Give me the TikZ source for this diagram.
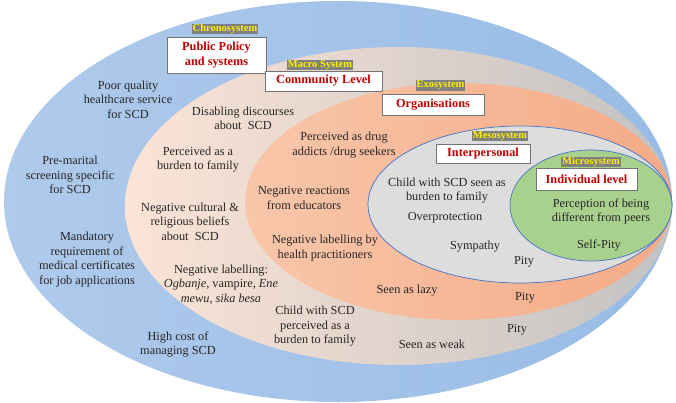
\documentclass[tikz,border=0pt]{standalone}
\usepackage{fontspec}
\setmainfont{Liberation Serif}
\definecolor{blueL}{HTML}{AFCAEB}
\definecolor{blueR}{HTML}{98BCE6}
\definecolor{peach}{HTML}{FCE4D6}
\definecolor{grayR}{HTML}{C2C2C2}
\definecolor{orgL}{HTML}{F8C6AA}
\definecolor{orgR}{HTML}{F4AA86}
\definecolor{meso}{HTML}{DDDDDD}
\definecolor{micro}{HTML}{A9D18E}
\definecolor{edgeblue}{HTML}{4472C4}
\definecolor{lvlred}{HTML}{C00000}
\definecolor{tagbg}{HTML}{808080}
\tikzset{
  txt/.style={font=\fontsize{12.3}{14.5}\selectfont, align=center, inner sep=0pt, text=black!85},
  systag/.style={fill=tagbg, text=yellow, font=\fontsize{10.5}{11}\selectfont\bfseries, inner sep=0pt},
  lvlbox/.style={draw=black!55, line width=0.7pt, fill=white, text=lvlred, font=\fontsize{12.3}{14.5}\selectfont\bfseries, align=center, inner sep=0pt}
}
\begin{document}
\begin{tikzpicture}[x=1pt,y=-1pt]
\useasboundingbox (0,0) rectangle (676,403);
% ellipses
\shade[left color=blueL, right color=blueR] (338,201.5) ellipse [x radius=334pt, y radius=200.5pt];
\shade[left color=peach, right color=grayR] (398.5,206) ellipse [x radius=273.5pt, y radius=159pt];
\shade[left color=orgL, right color=orgR] (458.5,201.5) ellipse [x radius=213.5pt, y radius=118.5pt];
\fill[meso, draw=edgeblue, line width=0.7pt] (520,204.5) ellipse [x radius=152pt, y radius=78.5pt];
\fill[micro, draw=edgeblue, line width=0.7pt] (591,205.5) ellipse [x radius=81pt, y radius=55.5pt];
% system tags and level boxes
\node[systag, minimum width=66pt, minimum height=10pt] (chrono) at (225,29) {Chronosystem};
\node[lvlbox, minimum width=99pt, minimum height=36pt] (policy) at (216.5,55) {Public Policy\\and systems};
\node[systag, minimum width=66pt, minimum height=10pt] (macro) at (320,65) {Macro System};
\node[lvlbox, minimum width=117pt, minimum height=20pt] (community) at (323.5,81) {Community Level};
\node[systag, minimum width=49pt, minimum height=11pt] (exo) at (440.5,85.5) {Exosystem};
\node[lvlbox, minimum width=102pt, minimum height=21pt] (orgs) at (433,104.5) {Organisations};
\node[systag, minimum width=56pt, minimum height=10pt] (mesotag) at (500,136) {Mesosystem};
\node[lvlbox, minimum width=94pt, minimum height=19pt] (inter) at (483,153.5) {Interpersonal};
\node[systag, minimum width=60pt, minimum height=10pt] (microtag) at (591,162) {Microsystem};
\node[lvlbox, minimum width=101pt, minimum height=22pt] (indiv) at (586.5,179) {Individual level};
% chronosystem texts
\node[txt] (poor) at (128,99.5) {Poor quality\\healthcare service\\for SCD};
\node[txt] (premarital) at (70,175) {Pre-marital\\screening specific\\for SCD};
\node[txt] (mandatory) at (87,259.5) {Mandatory\\requirement of\\medical certificates\\for job applications};
\node[txt] (highcost) at (178,344.5) {High cost of\\managing SCD};
% macro texts
\node[txt] (disabling) at (243,118.5) {Disabling discourses\\about~~SCD};
\node[txt] (burdenA) at (198,159.5) {Perceived as a\\burden to family};
\node[txt] (cultural) at (190,221.5) {Negative cultural \&\\religious beliefs\\about~~SCD};
\node[txt] (labelling) at (221,284.5) {Negative labelling:\\\textit{Ogbanje}, vampire, \textit{Ene}\\\textit{mewu, sika besa}};
\node[txt] (childB) at (315,326.5) {Child with SCD\\perceived as a\\burden to family};
\node[txt] (weak) at (432,344) {Seen as weak};
\node[txt] (pityC) at (517,330) {Pity};
% exo texts
\node[txt] (drug) at (344,145) {Perceived as drug\\addicts /drug seekers};
\node[txt] (educators) at (304,198) {Negative reactions\\from educators};
\node[txt] (practitioners) at (325,248) {Negative labelling by\\health practitioners};
\node[txt] (lazy) at (407,291) {Seen as lazy};
\node[txt] (pityB) at (525,298) {Pity};
% meso texts
\node[txt] (childC) at (447,190.5) {Child with SCD seen as\\burden to family};
\node[txt] (overprot) at (445,218) {Overprotection};
\node[txt] (sympathy) at (475,247) {Sympathy};
\node[txt] (pityA) at (524,262) {Pity};
% micro texts
\node[txt] (perception) at (601,211.5) {Perception of being\\different from peers};
\node[txt] (selfpity) at (599,245) {Self-Pity};
\end{tikzpicture}
\end{document}
